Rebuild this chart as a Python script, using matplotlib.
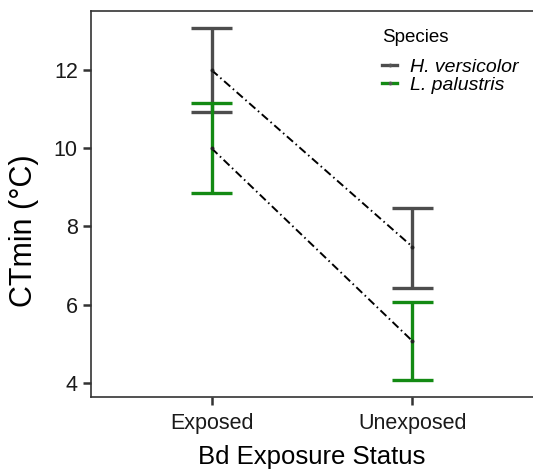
import matplotlib.pyplot as plt
from matplotlib.lines import Line2D

plt.rcParams['font.family'] = ['Liberation Sans', 'DejaVu Sans']

# data
groups = ["Exposed", "Unexposed"]
species = ["H. versicolor", "L. palustris"]
hv_mean = [12.0, 7.48]
hv_low = [10.93, 6.43]
hv_high = [13.07, 8.47]
lp_mean = [10.0, 5.07]
lp_low = [8.85, 4.08]
lp_high = [11.15, 6.08]

colors = {"H. versicolor": "#4d4d4d", "L. palustris": "#138a13"}

fig = plt.figure(figsize=(5.33, 4.71), dpi=100)
ax = fig.add_axes([91 / 533, 1 - 397 / 471, 1 - 91 / 533, (397 - 11) / 471])

xpos = list(range(1, len(groups) + 1))
cap = 0.1

for name, mean, low, high in [("H. versicolor", hv_mean, hv_low, hv_high),
                              ("L. palustris", lp_mean, lp_low, lp_high)]:
    c = colors[name]
    # connecting line between group means
    ax.plot(xpos, mean, color="black", lw=1.4, linestyle=(0, (4.2, 1.8, 0.8, 1.8)), zorder=3)
    ax.vlines(xpos, low, high, color=c, lw=2.4, zorder=2)
    ax.hlines(low, [x - cap for x in xpos], [x + cap for x in xpos], color=c, lw=2.4, zorder=2)
    ax.hlines(high, [x - cap for x in xpos], [x + cap for x in xpos], color=c, lw=2.4, zorder=2)
    ax.plot(xpos, mean, "o", color="#222222", ms=1.8, zorder=4)

ax.set_xlim(0.4, 2.6)
ax.set_ylim(3.64, 13.51)
ax.set_yticks([4, 6, 8, 10, 12])
ax.set_xticks(xpos)
ax.set_xticklabels(groups)

for side in ["left", "bottom", "top"]:
    ax.spines[side].set_color("#333333")
    ax.spines[side].set_linewidth(1.2)
ax.spines["right"].set_visible(False)
ax.tick_params(axis="both", length=5.5, width=1.8, color="#333333",
               labelsize=15.5, labelcolor="#1a1a1a")
ax.tick_params(axis="x", pad=6)
ax.tick_params(axis="y", pad=4)

ax.set_xlabel("Bd Exposure Status", fontsize=18.5, color="black", labelpad=8)
ax.set_ylabel("CTmin (°C)", fontsize=22, color="black", va="center")
ax.yaxis.set_label_coords(-0.152, 0.43)

handles = [Line2D([0], [0], color=colors[s], lw=2.4, marker="o", ms=1.8,
                  markerfacecolor="#555555", markeredgecolor="#555555") for s in species]
leg = ax.legend(handles, species, title="Species", loc="upper left",
                bbox_to_anchor=(378 / 533, 1 - 25 / 471), bbox_transform=fig.transFigure,
                frameon=False, handlelength=0.8, handletextpad=0.65, labelspacing=0.0,
                borderaxespad=0, borderpad=0.2,
                prop={"style": "italic", "size": 14}, title_fontproperties={"size": 13.5})
leg._legend_box.align = "left"
leg._legend_box.sep = 9

fig.savefig("out.png", dpi=100)
